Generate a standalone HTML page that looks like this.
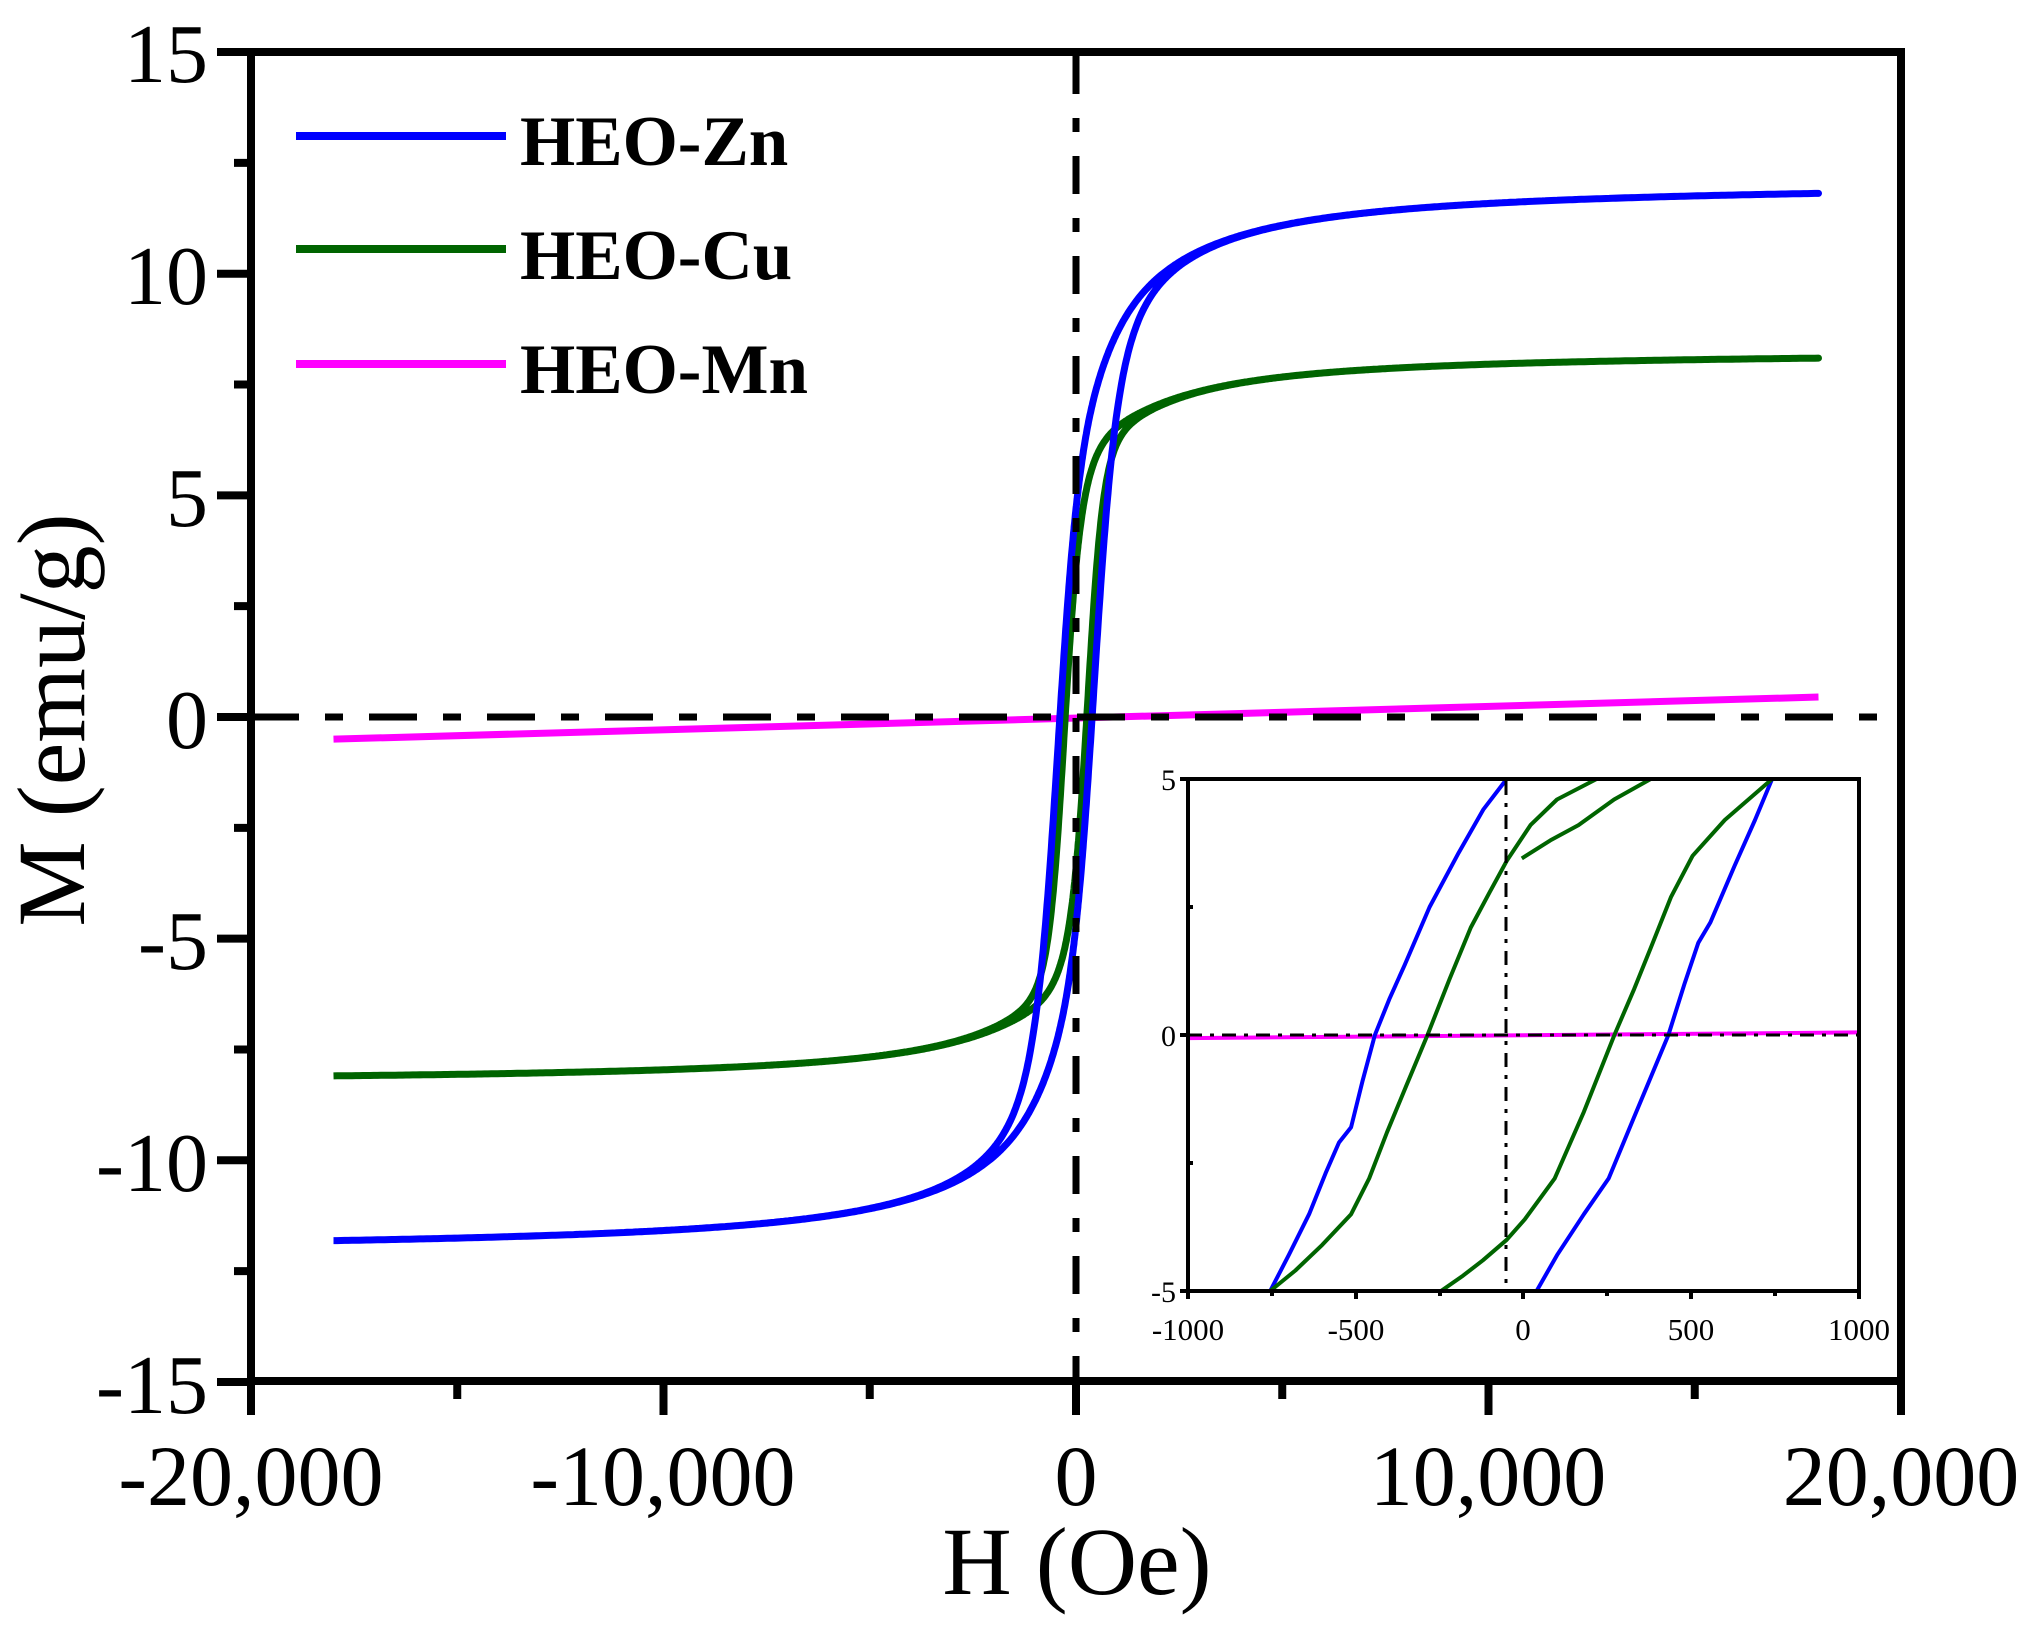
<!DOCTYPE html>
<html><head><meta charset="utf-8">
<style>
html,body{margin:0;padding:0;background:#fff;}
svg{display:block;}
text{font-family:"Liberation Serif",serif;fill:#000;}
</style></head>
<body>
<svg id="s" width="2035" height="1630" viewBox="0 0 2035 1630" xmlns="http://www.w3.org/2000/svg">
<rect width="2035" height="1630" fill="#fff"/>
<g id="curves"></g>
<line x1="251" y1="717" x2="1901" y2="717" stroke="#000" stroke-width="7" stroke-dasharray="48 26 18 26"/>
<line x1="1076" y1="56" x2="1076" y2="1378" stroke="#000" stroke-width="7" stroke-dasharray="38 24 14 24"/>
<rect x="251" y="52" width="1650" height="1329" fill="none" stroke="#000" stroke-width="8"/>
<g id="ticks" stroke="#000" stroke-width="8"></g>
<g font-size="84" text-anchor="end">
<text x="208" y="82">15</text>
<text x="208" y="304">10</text>
<text x="208" y="526">5</text>
<text x="208" y="748">0</text>
<text x="208" y="969">-5</text>
<text x="208" y="1191">-10</text>
<text x="208" y="1413">-15</text>
</g>
<g font-size="86" text-anchor="middle">
<text x="251" y="1505">-20,000</text>
<text x="663" y="1505">-10,000</text>
<text x="1076" y="1505">0</text>
<text x="1488" y="1505">10,000</text>
<text x="1901" y="1505">20,000</text>
</g>
<text x="1077" y="1594" font-size="96" text-anchor="middle">H (Oe)</text>
<text transform="translate(84,720) rotate(-90)" font-size="96" text-anchor="middle">M (emu/g)</text>
<line x1="296" y1="136" x2="506" y2="136" stroke="#0000ff" stroke-width="8"/>
<line x1="296" y1="249" x2="506" y2="249" stroke="#006400" stroke-width="8"/>
<line x1="296" y1="364" x2="506" y2="364" stroke="#ff00ff" stroke-width="8"/>
<g font-size="71" font-weight="bold">
<text x="520" y="165">HEO-Zn</text>
<text x="520" y="279">HEO-Cu</text>
<text x="520" y="393">HEO-Mn</text>
</g>
<rect x="1188" y="779" width="671" height="512" fill="#fff"/>
<g id="inset"></g>
<line x1="1188" y1="1035" x2="1859" y2="1035" stroke="#000" stroke-width="3" stroke-dasharray="14 8 4 8"/>
<line x1="1506" y1="781" x2="1506" y2="1289" stroke="#000" stroke-width="3" stroke-dasharray="14 8 4 8"/>
<rect x="1188" y="779" width="671" height="512" fill="none" stroke="#000" stroke-width="4"/>
<g stroke="#000" stroke-width="4">
<line x1="1180" y1="779" x2="1188" y2="779"/><line x1="1180" y1="1035" x2="1188" y2="1035"/><line x1="1180" y1="1291" x2="1188" y2="1291"/>
<line x1="1188" y1="907" x2="1193" y2="907"/><line x1="1188" y1="1163" x2="1193" y2="1163"/>
<line x1="1188" y1="1291" x2="1188" y2="1299"/><line x1="1356" y1="1291" x2="1356" y2="1299"/><line x1="1523" y1="1291" x2="1523" y2="1299"/><line x1="1691" y1="1291" x2="1691" y2="1299"/><line x1="1859" y1="1291" x2="1859" y2="1299"/>
<line x1="1272" y1="1291" x2="1272" y2="1296"/><line x1="1440" y1="1291" x2="1440" y2="1296"/><line x1="1607" y1="1291" x2="1607" y2="1296"/><line x1="1775" y1="1291" x2="1775" y2="1296"/>
</g>
<g font-size="30" text-anchor="end">
<text x="1176" y="790">5</text><text x="1176" y="1046">0</text><text x="1176" y="1302">-5</text>
</g>
<g font-size="31" text-anchor="middle">
<text x="1188" y="1340">-1000</text><text x="1356" y="1340">-500</text><text x="1523" y="1340">0</text><text x="1691" y="1340">500</text><text x="1859" y="1340">1000</text>
</g>
</svg>
<script>
(function(){
var NS="http://www.w3.org/2000/svg";
function X(h){return 1076+h*0.04125;}
function Y(m){return 717-m*44.33;}
function path(par,d,col,w){var p=document.createElementNS(NS,"path");p.setAttribute("d",d);p.setAttribute("fill","none");p.setAttribute("stroke",col);p.setAttribute("stroke-width",w);p.setAttribute("stroke-linejoin","round");par.appendChild(p);}
var c=document.getElementById("curves");
function gZn(x){return 12.1*(0.55*Math.tanh(x/700)+0.45*0.63662*Math.atan(x/1500));}
function gCu(x){return 8.27*(0.7*Math.tanh(x/450)+0.3*0.63662*Math.atan(x/2000));}
function loop(g,hc,wd,col){
 var d="",H,i,s;
 function sh(s){return hc/(1+Math.pow(s/wd,2));}
 for(i=0;i<=800;i++){H=-18000+36000*i/800;s=Math.sign(H)*Math.pow(Math.abs(H)/18000,2)*18000;d+=(i?"L":"M")+X(s).toFixed(1)+" "+Y(g(s-sh(s))).toFixed(1);}
 for(i=800;i>=0;i--){H=-18000+36000*i/800;s=Math.sign(H)*Math.pow(Math.abs(H)/18000,2)*18000;d+="L"+X(s).toFixed(1)+" "+Y(g(s+sh(s))).toFixed(1);}
 path(c,d,col,7);
}
path(c,"M"+X(-18000)+" "+Y(-0.5)+"L"+X(18000)+" "+Y(0.45),"#ff00ff",7);
loop(gCu,280,1000,"#006400");
loop(gZn,440,1100,"#0000ff");
var t=document.getElementById("ticks");
function ln(x1,y1,x2,y2){var l=document.createElementNS(NS,"line");l.setAttribute("x1",x1);l.setAttribute("y1",y1);l.setAttribute("x2",x2);l.setAttribute("y2",y2);t.appendChild(l);}
for(var v=-15;v<=15;v+=2.5){var y=Y(v);var maj=(v%5===0);ln(maj?217:234,y,251,y);}
for(var h=-20000;h<=20000;h+=5000){var x=X(h);var maj=(h%10000===0);ln(x,1381,x,maj?1415:1399);}
var ins=document.getElementById("inset");
function IX(h){return 1523.5+h*0.3355;}
function IY(m){return 1035-m*51.2;}
function pl(pts,col){var d="";for(var i=0;i<pts.length;i++){d+=(i?"L":"M")+IX(pts[i][0]).toFixed(1)+" "+IY(pts[i][1]).toFixed(1);}path(ins,d,col,4);}
pl([[-1000,-0.06],[1000,0.05]],"#ff00ff");
pl([[-755,-5],[-700,-4.3],[-639,-3.5],[-590,-2.7],[-550,-2.1],[-514,-1.8],[-480,-0.9],[-443,0],[-400,0.7],[-354,1.37],[-280,2.5],[-193,3.56],[-120,4.4],[-50,5]],"#0000ff");
pl([[39,-5],[100,-4.3],[180,-3.5],[254,-2.8],[330,-1.6],[432,0],[480,1],[521,1.8],[557,2.2],[629,3.3],[690,4.2],[741,5]],"#0000ff");
pl([[-755,-5],[-680,-4.6],[-600,-4.1],[-514,-3.5],[-460,-2.8],[-407,-1.9],[-350,-1.0],[-286,0],[-220,1.1],[-157,2.1],[-100,2.8],[-50,3.4],[21,4.1],[100,4.6],[218,5]],"#006400");
pl([[-5,3.45],[80,3.8],[164,4.1],[270,4.6],[379,5]],"#006400");
pl([[-246,-5],[-180,-4.7],[-121,-4.4],[-50,-4.0],[4,-3.6],[93,-2.8],[180,-1.5],[271,0],[330,0.9],[379,1.7],[440,2.7],[504,3.5],[600,4.2],[741,5]],"#006400");
})();
</script>
</body></html>
